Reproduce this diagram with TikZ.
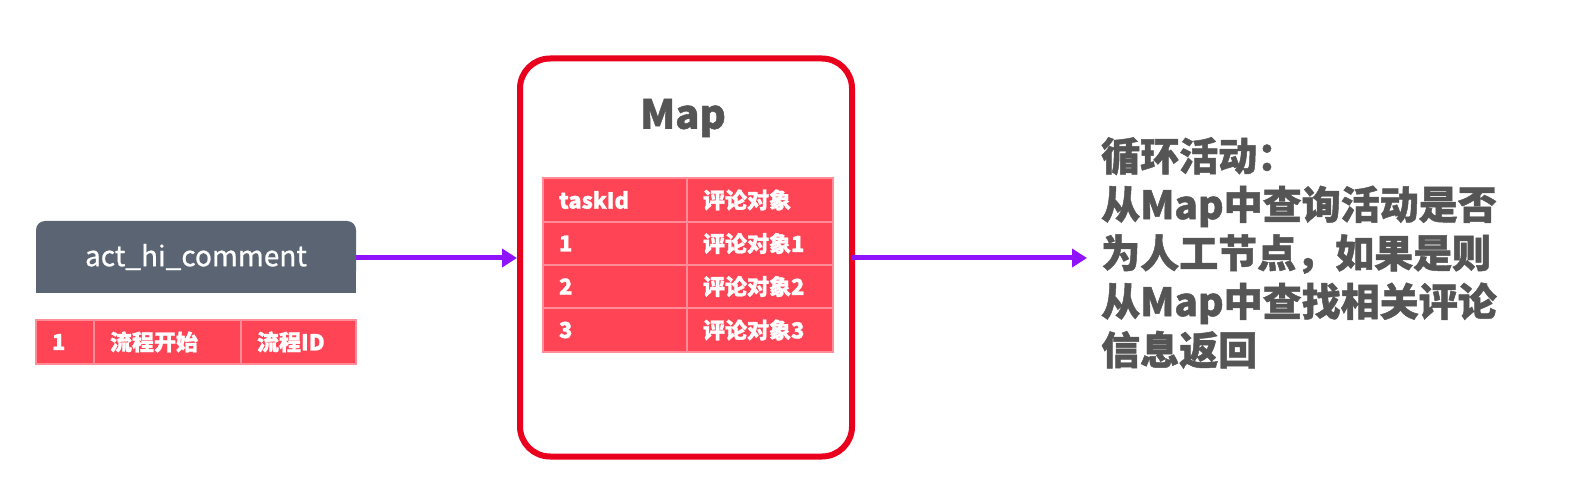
\documentclass[tikz,border=0pt]{standalone}
\usepackage{fontspec}
\setmainfont{Noto Sans CJK SC}
\newfontfamily\cjk{Noto Sans CJK SC}[BoldFeatures={FakeBold=1.2}]
\newfontfamily\cjkmed{Noto Sans CJK SC}[FakeBold=0.8]
\usetikzlibrary{arrows.meta}
\definecolor{boxgray}{HTML}{5A6472}
\definecolor{cellred}{HTML}{FF4455}
\definecolor{cellline}{HTML}{FF8C96}
\definecolor{framered}{HTML}{E8001C}
\definecolor{arrowpurple}{HTML}{9013FE}
\definecolor{textgray}{HTML}{555555}
\tikzset{
  cell/.style={draw=cellline, fill=cellred, line width=1.5pt, text=white,
    font=\cjk\bfseries\fontsize{22}{25}\selectfont, inner xsep=16pt, inner ysep=0pt,
    align=left, outer sep=0pt},
  flow/.style={arrowpurple, line width=5pt, -{Triangle[length=15pt,width=18pt]}},
}
\begin{document}
\begin{tikzpicture}[x=1pt,y=-1pt]
\useasboundingbox (0,0) rectangle (1584,486);
% source box
\fill[boxgray, rounded corners=9pt] (36,221) rectangle (356,280);
\fill[boxgray] (36,250) rectangle (356,293);
\node[text=white, font=\cjkmed\fontsize{28}{32}\selectfont, minimum width=320pt, minimum height=72pt, inner sep=0pt] (src) at (196,257) {act\_hi\_comment};
% small table
\node[cell, text width=26pt, minimum height=44pt] (s1) at (65,342) {1};
\node[cell, text width=115pt, minimum height=44pt] (s2) at (167.5,342) {流程开始};
\node[cell, text width=83pt, minimum height=44pt] (s3) at (298.5,342) {流程ID};
% map frame
\node[draw=framered, line width=6pt, rounded corners=30pt, minimum width=332pt, minimum height=398pt, inner sep=0pt] (map) at (686,257.5) {};
\node[text=textgray, font=\cjk\bfseries\fontsize{40}{44}\selectfont] (maptitle) at (683,118) {Map};
% map table
\node[cell, text width=112pt, minimum height=44pt] (m11) at (615,200) {taskId};
\node[cell, text width=114pt, minimum height=44pt] (m12) at (760,200) {评论对象};
\node[cell, text width=112pt, minimum height=43pt] (m21) at (615,243.5) {1};
\node[cell, text width=114pt, minimum height=43pt] (m22) at (760,243.5) {评论对象1};
\node[cell, text width=112pt, minimum height=43pt] (m31) at (615,286.5) {2};
\node[cell, text width=114pt, minimum height=43pt] (m32) at (760,286.5) {评论对象2};
\node[cell, text width=112pt, minimum height=44pt] (m41) at (615,330) {3};
\node[cell, text width=114pt, minimum height=44pt] (m42) at (760,330) {评论对象3};
% description
\node[anchor=north west, inner sep=0pt, align=left, text=textgray, font=\cjk\bfseries\fontsize{39}{48.5}\selectfont] (desc) at (1101,137) {循环活动：\\从Map中查询活动是否\\为人工节点，如果是则\\从Map中查找相关评论\\信息返回};
% arrows
\coordinate (end) at (1087,258);
\draw[flow] (src.east |- 0,258) -- (map.west |- 0,258);
\draw[flow] (map.center -| 852,0) ++(0,0.5) -- (end);
\end{tikzpicture}
\end{document}
